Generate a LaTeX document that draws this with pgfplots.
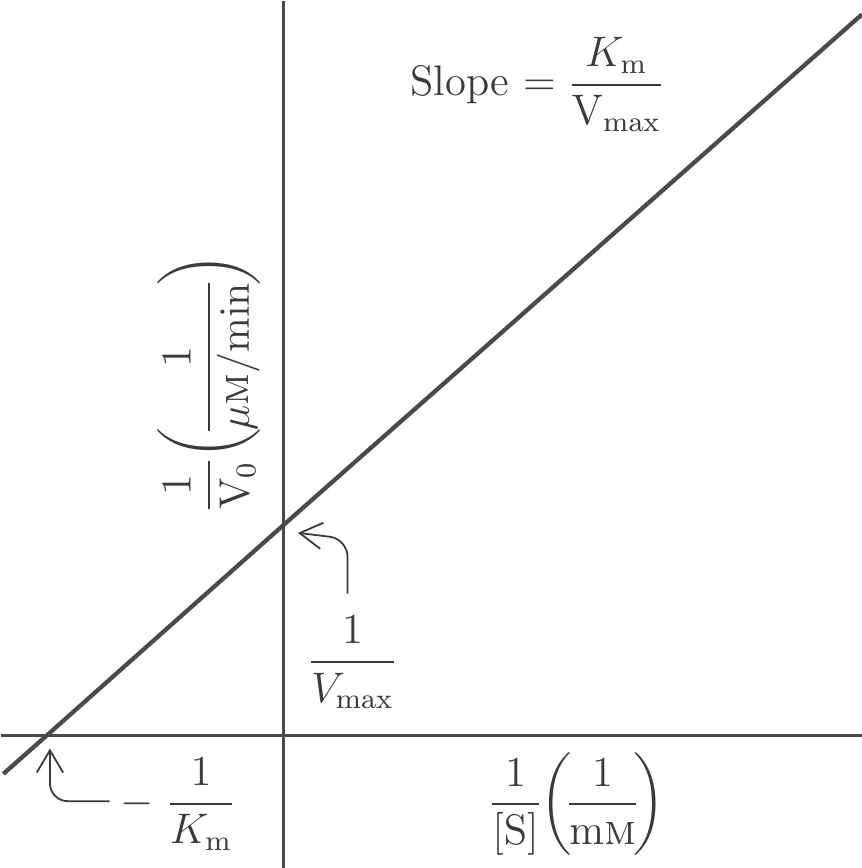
\documentclass[border=0pt]{standalone}
\usepackage{amsmath}
\usepackage{pgfplots}
\pgfplotsset{compat=1.18}
\usetikzlibrary{arrows.meta}
\definecolor{ink}{HTML}{3A3A3A}
\definecolor{lineink}{HTML}{4A4A4A}
\begin{document}
\begin{tikzpicture}
\begin{axis}[
    scale only axis,
    width=8.6cm, height=8.68cm,
    xmin=-289, xmax=571,
    ymin=-131, ymax=737,
    hide axis,
    clip=true,
]
% coordinate axes
\addplot[lineink, line width=0.75pt, forget plot] coordinates {(-279,0) (571,0)};
\addplot[lineink, line width=0.75pt, forget plot] coordinates {(0,725) (0,-131)};
% Lineweaver-Burk line
\addplot[lineink, line width=1.2pt, forget plot] coordinates {(-277,-38) (-234,0) (0,208) (571,712)};
% annotation arrows
\draw[ink, line width=0.5pt, rounded corners=5pt, -{Straight Barb[length=2.2mm,width=2.6mm]}]
    (axis cs:63,140) -- (axis cs:63,194) -- (axis cs:14,200);
\draw[ink, line width=0.5pt, rounded corners=5pt, -{Straight Barb[length=2.2mm,width=2.6mm]}]
    (axis cs:-172,-65) -- (axis cs:-231,-65) -- (axis cs:-231,-13);
% texts
\node[ink, font=\large] at (axis cs:251,643) {Slope $=\dfrac{K_{\mathrm{m}}}{\mathrm{V}_{\max}}$};
\node[ink, font=\large] at (axis cs:68,72) {$\dfrac{1}{V_{\max}}$};
\node[ink, font=\large] at (axis cs:-104,-68) {$-\;\dfrac{1}{K_{\mathrm{m}}}$};
\node[ink, font=\large] at (axis cs:289,-68) {$\dfrac{1}{[\mathrm{S}]}\mkern-4mu\left(\mkern-3mu\dfrac{1}{\mathrm{m}\textsc{m}}\mkern-3mu\right)$};
\node[ink, font=\large, rotate=90] at (axis cs:-74,347) {$\dfrac{1}{\mathrm{V}_0}\mkern-4mu\left(\mkern-3mu\dfrac{1}{\mu\textsc{m}/\mathrm{min}}\mkern-3mu\right)$};
\end{axis}
\end{tikzpicture}
\end{document}
